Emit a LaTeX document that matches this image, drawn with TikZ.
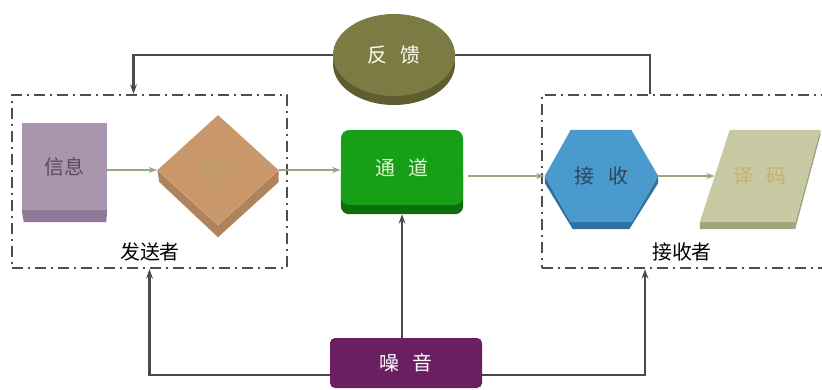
\documentclass[tikz,border=0pt]{standalone}
\usepackage{fontspec}
\setmainfont{Noto Sans CJK SC}
\usetikzlibrary{calc,shapes.geometric,arrows.meta}
\pgfdeclarelayer{background}
\pgfsetlayers{background,main}

\definecolor{xinxicol}{HTML}{A996AE}
\definecolor{xinxiside}{HTML}{8E7896}
\definecolor{xinxitext}{HTML}{5A4A60}
\definecolor{bianmacol}{HTML}{C8976A}
\definecolor{bianmaside}{HTML}{B0835A}
\definecolor{bianmatext}{HTML}{BBA066}
\definecolor{tongdaocol}{HTML}{17A017}
\definecolor{tongdaoside}{HTML}{0E6E0E}
\definecolor{tongdaotext}{HTML}{E4F4D6}
\definecolor{jieshoucol}{HTML}{4A9ACD}
\definecolor{jieshouside}{HTML}{2F72A2}
\definecolor{jieshoutext}{HTML}{2E4458}
\definecolor{yimacol}{HTML}{C7C9A3}
\definecolor{yimaside}{HTML}{A3A580}
\definecolor{yimatext}{HTML}{C6B06A}
\definecolor{fankuicol}{HTML}{7C7B44}
\definecolor{fankuiside}{HTML}{5E5D30}
\definecolor{noisecol}{HTML}{6A1F62}
\definecolor{flowcol}{HTML}{9DA77F}
\definecolor{linecol}{HTML}{4A4A4A}
\definecolor{framecol}{HTML}{4E4E4E}

\newcommand{\gap}{\hspace{0.7em}}

\tikzset{
	lbl/.style={font=\fontsize{17}{20}\selectfont},
	flow/.style={draw=flowcol, line width=1.5pt, -{Stealth[length=2.6mm,width=1.8mm]}},
	fb/.style={draw=linecol, line width=2pt},
	fbarrow/.style={fb, -{Stealth[length=2.8mm,width=2mm]}},
	group/.style={draw=framecol, line width=2pt, dash pattern=on 3.4mm off 1.4mm on 0.7mm off 1.4mm},
}

\begin{document}
\begin{tikzpicture}[x=0.03cm, y=-0.03cm]
			%%%%% START %%%%%
			\useasboundingbox (0,0) rectangle (822,389);
			\clip (0,0) rectangle (822,389);
			
			\node[group, minimum width=8.25cm, minimum height=5.19cm] (sender) at (149.5,181.5) {};
			\node[group, minimum width=9cm, minimum height=5.19cm] (receiver) at (692,181.5) {};
			\node[lbl] (senderlbl) at (150,252) {发送者};
			\node[lbl] (receiverlbl) at (682,252) {接收者};
			
			\node[lbl, fill=xinxicol, text=xinxitext, minimum width=2.55cm, minimum height=2.61cm] (xinxi) at (64.5,166.5) {信息};
			\node[lbl, diamond, fill=bianmacol, text=bianmatext, minimum width=3.63cm, minimum height=3.3cm] (bianma) at (218,170) {编码};
			\node[lbl, fill=tongdaocol, text=tongdaotext, rounded corners=2.5mm, minimum width=3.66cm, minimum height=2.25cm] (tongdao) at (402,167.5) {通\gap 道};
			\node[lbl, text=jieshoutext, minimum width=3.39cm, minimum height=2.76cm] (jieshou) at (601.5,176) {接\gap 收};
			\node[lbl, text=yimatext, minimum width=2.7cm, minimum height=2.76cm] (yima) at (760,176) {译\gap 码};
			
			\node[lbl, ellipse, fill=fankuicol, text=white!94!yellow, minimum width=3.66cm, minimum height=2.46cm] (fankui) at (394,55) {反\gap 馈};
			\node[lbl, fill=noisecol, text=white, rounded corners=1.5mm, minimum width=4.56cm, minimum height=1.5cm] (noise) at (406,363) {噪\gap 音};
			
			\begin{pgfonlayer}{background}
				\fill[xinxiside] (xinxi.south west) -- (xinxi.south east) -- ++(-1,12) -- ($(xinxi.south west)+(2,12)$) -- cycle;
				\fill[bianmaside] (bianma.west) -- (bianma.south) -- (bianma.east) -- ++(0,12) -- ($(bianma.south)+(0,12)$) -- ($(bianma.west)+(2,12)$) -- cycle;
				\fill[tongdaoside, rounded corners=2.5mm] (tongdao.west) rectangle ($(tongdao.south east)+(0,9)$);
				\fill[fankuiside] ($(fankui.center)+(0,9)$) ellipse [x radius=1.83cm, y radius=1.23cm];
				
				\fill[jieshouside] (jieshou.west) -- ($(jieshou.south west)+(26,0)$) -- ($(jieshou.south east)+(-27,0)$) -- (jieshou.east) -- ++(0,7) -- ($(jieshou.south east)+(-29,7)$) -- ($(jieshou.south west)+(28,7)$) -- ($(jieshou.west)+(0,7)$) -- cycle;
				\fill[jieshoucol] (jieshou.west) -- ($(jieshou.north west)+(26,0)$) -- ($(jieshou.north east)+(-27,0)$) -- (jieshou.east) -- ($(jieshou.south east)+(-27,0)$) -- ($(jieshou.south west)+(26,0)$) -- cycle;
				
				\fill[yimaside] ($(yima.south west)+(-15,0)$) -- ($(yima.south east)+(-10,0)$) -- ($(yima.north east)+(15,0)$) -- ($(yima.north east)+(15,6)$) -- ($(yima.south east)+(-10,7)$) -- ($(yima.south west)+(-15,7)$) -- cycle;
				\fill[yimacol] ($(yima.south west)+(-15,0)$) -- ($(yima.north west)+(15,0)$) -- ($(yima.north east)+(15,0)$) -- ($(yima.south east)+(-10,0)$) -- cycle;
			\end{pgfonlayer}
			
			\draw[flow] (xinxi.east |- bianma.west) -- (bianma.west);
			\draw[flow] (bianma.east) -- (tongdao.west |- bianma.east);
			\draw[flow] ([xshift=0.15cm]tongdao.east |- jieshou.west) -- (jieshou.west);
			\draw[flow] (jieshou.east) -- (yima.west);
			
			\draw[fbarrow] (fankui.west) -| ([xshift=-0.48cm]sender.north);
			\draw[fb] (fankui.east) -| ([xshift=-1.26cm]receiver.north);
			
			\draw[fbarrow] (noise.north -| tongdao.south) -- ([yshift=-0.27cm]tongdao.south);
			\draw[fbarrow] ([yshift=-0.36cm]noise.west) -| (sender.south);
			\draw[fbarrow] ([yshift=-0.36cm]noise.east) -| ([xshift=-1.41cm]receiver.south);
			
			%%%%% END %%%%%
\end{tikzpicture}
\end{document}
